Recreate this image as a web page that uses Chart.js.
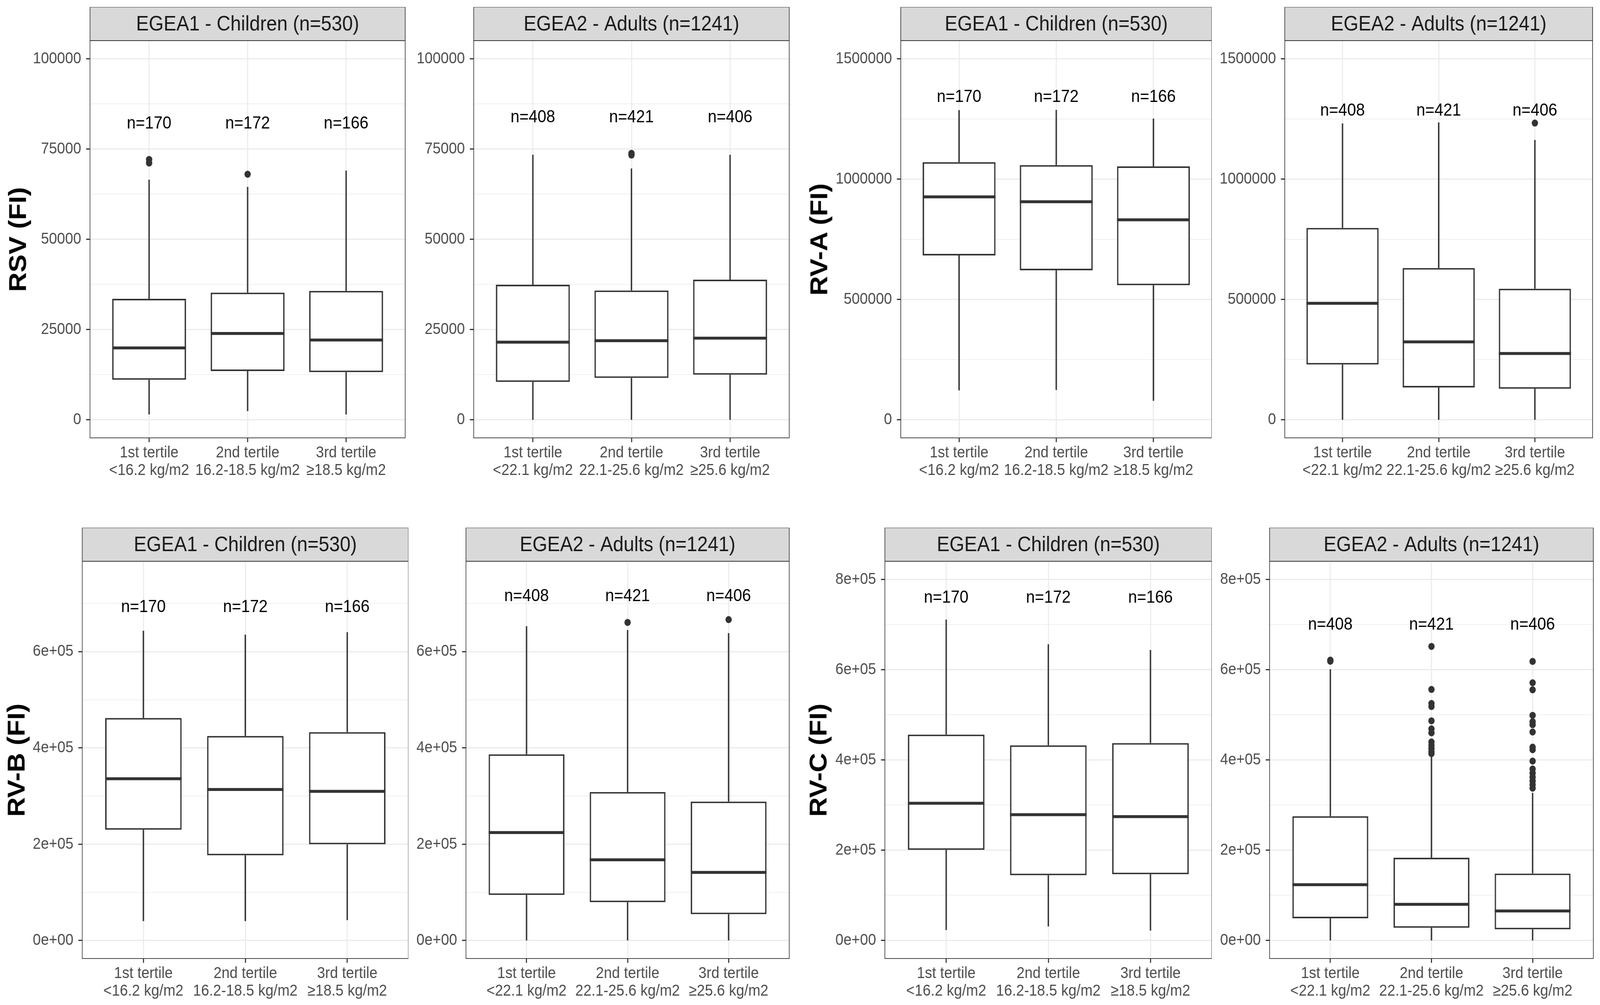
<!DOCTYPE html>
<html>
<head>
<meta charset="utf-8">
<script src="https://cdn.jsdelivr.net/npm/chart.js@4.4.1/dist/chart.umd.min.js"></script>
<style>
  html, body { margin: 0; padding: 0; background: #fff; overflow: hidden; width: 100%; height: 100%; }
  #frame { position: absolute; left: 0; top: 0; overflow: hidden; background: #fff; }
  #stage { position: absolute; left: 0; top: 0; width: 4533px; height: 2573px; transform-origin: 0 0;
           font-family: "Liberation Sans", Arial, sans-serif; background: #fff; }
  canvas { position: absolute; }
  .ytitle { position: absolute; font-weight: bold; font-size: 69px; color: #000; white-space: nowrap;
            transform: translate(-50%, -50%) rotate(-90deg); }
</style>
</head>
<body>
<div id="frame"><div id="stage"></div></div>
<script>
// categories / labels
const childLabels = [['1st tertile', '<16.2 kg/m2'], ['2nd tertile', '16.2-18.5 kg/m2'], ['3rd tertile', '≥18.5 kg/m2']];
const adultLabels = [['1st tertile', '<22.1 kg/m2'], ['2nd tertile', '22.1-25.6 kg/m2'], ['3rd tertile', '≥25.6 kg/m2']];
const childStrip = 'EGEA1 - Children (n=530)';
const adultStrip = 'EGEA2 - Adults (n=1241)';
const childN = ['n=170', 'n=172', 'n=166'];
const adultN = ['n=408', 'n=421', 'n=406'];

// y ticks and labels
const rsvTicks = [0, 25000, 50000, 75000, 100000];
const rsvTickLabels = ['0', '25000', '50000', '75000', '100000'];
const rvaTicks = [0, 500000, 1000000, 1500000];
const rvaTickLabels = ['0', '500000', '1000000', '1500000'];
const rvbTicks = [0, 200000, 400000, 600000];
const rvbTickLabels = ['0e+00', '2e+05', '4e+05', '6e+05'];
const rvcTicks = [0, 200000, 400000, 600000, 800000];
const rvcTickLabels = ['0e+00', '2e+05', '4e+05', '6e+05', '8e+05'];

// axis limits
const rsvRange = [-5000, 105000];
const rvaRange = [-75000, 1575000];
const rvbRange = [-37500, 787500];
const rvcRange = [-40000, 840000];

// box stats per tertile: [lower whisker, Q1, median, Q3, upper whisker]
const rsvChild = [[1500, 11100, 19900, 33500, 66500], [2400, 13500, 23900, 35200, 64500], [1500, 13200, 22100, 35700, 69000]];
const rsvChildOut = [[72100, 71100], [68000], []];
const rsvAdult = [[0, 10500, 21500, 37400, 73400], [0, 11600, 21900, 35800, 69600], [0, 12500, 22600, 38800, 73400]];
const rsvAdultOut = [[], [73800, 73300], []];

const rvaChild = [[122000, 682800, 926100, 1069900, 1286300], [123700, 621000, 905900, 1057800, 1287600], [79300, 559100, 830600, 1052400, 1251300]];
const rvaChildOut = [[], [], []];
const rvaAdult = [[0, 229800, 483900, 797000, 1231200], [0, 134400, 323900, 630400, 1235200], [0, 129000, 275500, 544400, 1162600]];
const rvaAdultOut = [[], [], [1232500]];

const rvbChild = [[40100, 230000, 335900, 462000, 643400], [40100, 176800, 313500, 424600, 634900], [42100, 199800, 309600, 432500, 640200]];
const rvbChildOut = [[], [], []];
const rvbAdult = [[0, 94600, 224100, 386500, 652600], [0, 79500, 167600, 308200, 644800], [0, 54600, 141300, 288500, 638200]];
const rvbAdultOut = [[], [660500], [666400]];

const rvcChild = [[23200, 200700, 303900, 456100, 710900], [30900, 144600, 278600, 432300, 656100], [21800, 146700, 274400, 437200, 643500]];
const rvcChildOut = [[], [], []];
const rvcAdult = [[0, 49100, 123500, 275100, 600700], [0, 28100, 80000, 183200, 408000], [0, 24600, 65300, 148100, 327000]];
const rvcAdultOut = [
  [621000, 618500],
  [651400, 556100, 525000, 518300, 486600, 468700, 460000, 439800, 432600, 425400, 418200, 413900],
  [618200, 570900, 555300, 498700, 484600, 478000, 461800, 428300, 422500, 397400, 379800, 370600, 361900, 353300, 345200, 337400]
];

// y position (data units) of the n= labels
const nLabelY = { rsvChild: 82000, rsvAdult: 83700, rvaChild: 1340000, rvaAdult: 1283600,
                  rvbChild: 692000, rvbAdult: 715000, rvcChild: 759000, rvcAdult: 699600 };

// ---- layout (reference pixels) ----
const FONT = '"Liberation Sans", Arial, sans-serif';
Chart.defaults.font.family = FONT;
const STRIP_H = 86, PLOT_H = 1017, Y_W = 200, X_H = 120;
const ROW_TOP = [18, 1351];
const DARK = '#333333', GRID = '#EBEBEB';

// the window may be narrower than 4533: stretch the reference-sized stage over the whole viewport
const frame = document.getElementById('frame');
const stage = document.getElementById('stage');
const SX = window.innerWidth / 4533, SY = window.innerHeight / 2573;
frame.style.width = window.innerWidth + 'px';
frame.style.height = window.innerHeight + 'px';
stage.style.transform = 'scale(' + SX + ',' + SY + ')';

const panels = [
  { x: 255,  w: 902, row: 0, strip: childStrip, xl: childLabels, n: childN, ny: nLabelY.rsvChild, stats: rsvChild, out: rsvChildOut, ticks: rsvTicks, tl: rsvTickLabels, range: rsvRange },
  { x: 1342, w: 903, row: 0, strip: adultStrip, xl: adultLabels, n: adultN, ny: nLabelY.rsvAdult, stats: rsvAdult, out: rsvAdultOut, ticks: rsvTicks, tl: rsvTickLabels, range: rsvRange },
  { x: 2552, w: 881, row: 0, strip: childStrip, xl: childLabels, n: childN, ny: nLabelY.rvaChild, stats: rvaChild, out: rvaChildOut, ticks: rvaTicks, tl: rvaTickLabels, range: rvaRange },
  { x: 3640, w: 881, row: 0, strip: adultStrip, xl: adultLabels, n: adultN, ny: nLabelY.rvaAdult, stats: rvaAdult, out: rvaAdultOut, ticks: rvaTicks, tl: rvaTickLabels, range: rvaRange },
  { x: 233,  w: 924, row: 1, strip: childStrip, xl: childLabels, n: childN, ny: nLabelY.rvbChild, stats: rvbChild, out: rvbChildOut, ticks: rvbTicks, tl: rvbTickLabels, range: rvbRange },
  { x: 1320, w: 925, row: 1, strip: adultStrip, xl: adultLabels, n: adultN, ny: nLabelY.rvbAdult, stats: rvbAdult, out: rvbAdultOut, ticks: rvbTicks, tl: rvbTickLabels, range: rvbRange },
  { x: 2507, w: 926, row: 1, strip: childStrip, xl: childLabels, n: childN, ny: nLabelY.rvcChild, stats: rvcChild, out: rvcChildOut, ticks: rvcTicks, tl: rvcTickLabels, range: rvcRange },
  { x: 3597, w: 926, row: 1, strip: adultStrip, xl: adultLabels, n: adultN, ny: nLabelY.rvcAdult, stats: rvcAdult, out: rvcAdultOut, ticks: rvcTicks, tl: rvcTickLabels, range: rvcRange }
];

const yTitles = [
  { text: 'RSV (FI)', x: 50, row: 0 },
  { text: 'RV-A (FI)', x: 2320, row: 0 },
  { text: 'RV-B (FI)', x: 46, row: 1 },
  { text: 'RV-C (FI)', x: 2318, row: 1 }
];

// strip, whiskers, medians, n labels and panel border
const boxExtras = {
  id: 'boxExtras',
  afterDatasetsDraw(chart, args, opts) {
    const p = opts.panel;
    const ctx = chart.ctx;
    const xs = chart.scales.x, ys = chart.scales.y;
    const bars = chart.getDatasetMeta(0).data;
    ctx.save();
    ctx.strokeStyle = DARK;
    ctx.lineCap = 'butt';
    bars.forEach((bar, i) => {
      const s = p.stats[i];
      const { x, width } = bar.getProps(['x', 'width'], true);
      ctx.lineWidth = 4;
      ctx.beginPath();
      ctx.moveTo(x, ys.getPixelForValue(s[3]));
      ctx.lineTo(x, ys.getPixelForValue(s[4]));
      ctx.moveTo(x, ys.getPixelForValue(s[1]));
      ctx.lineTo(x, ys.getPixelForValue(s[0]));
      ctx.stroke();
      ctx.lineWidth = 7.5;
      ctx.beginPath();
      ctx.moveTo(x - width / 2, ys.getPixelForValue(s[2]));
      ctx.lineTo(x + width / 2, ys.getPixelForValue(s[2]));
      ctx.stroke();
    });
    ctx.fillStyle = '#000';
    ctx.font = '45px ' + FONT;
    ctx.textAlign = 'center';
    ctx.textBaseline = 'middle';
    p.n.forEach((t, i) => ctx.fillText(t, xs.getPixelForValue(i + 1), ys.getPixelForValue(p.ny)));
    ctx.restore();
  },
  afterDraw(chart, args, opts) {
    const p = opts.panel;
    const ctx = chart.ctx;
    const a = chart.chartArea;
    ctx.save();
    ctx.fillStyle = '#D9D9D9';
    ctx.fillRect(a.left, a.top - STRIP_H, a.right - a.left, STRIP_H);
    ctx.strokeStyle = DARK;
    ctx.lineWidth = 1.8;
    ctx.strokeRect(a.left, a.top - STRIP_H, a.right - a.left, STRIP_H);
    ctx.strokeRect(a.left, a.top, a.right - a.left, a.bottom - a.top);
    ctx.fillStyle = '#1A1A1A';
    ctx.font = '54px ' + FONT;
    ctx.textAlign = 'center';
    ctx.textBaseline = 'middle';
    ctx.fillText(p.strip, (a.left + a.right) / 2, a.top - STRIP_H / 2 + 2);
    ctx.restore();
  }
};

function makePanel(p) {
  const cv = document.createElement('canvas');
  const w = Y_W + p.w, h = STRIP_H + PLOT_H + X_H;
  cv.width = w; cv.height = h;
  cv.style.width = w + 'px'; cv.style.height = h + 'px';
  cv.style.left = (p.x - Y_W) + 'px';
  cv.style.top = ROW_TOP[p.row] + 'px';
  stage.appendChild(cv);

  const step = p.ticks[1] - p.ticks[0];
  const minors = p.ticks.map(v => v + step / 2).filter(v => v > p.range[0] && v < p.range[1]);
  const yTickVals = p.ticks.concat(minors).sort((a, b) => a - b);
  const isMajor = v => p.ticks.indexOf(v) !== -1;

  const boxData = p.stats.map((s, i) => ({ x: i + 1, y: [s[1], s[3]] }));
  const outData = [];
  p.out.forEach((arr, i) => arr.forEach(v => outData.push({ x: i + 1, y: v })));

  new Chart(cv, {
    type: 'bar',
    data: {
      datasets: [
        { type: 'bar', data: boxData, backgroundColor: '#FFFFFF', borderColor: DARK, borderWidth: 4,
          borderSkipped: false, categoryPercentage: 1, barPercentage: 0.75 },
        { type: 'scatter', data: outData, pointRadius: 9, pointBackgroundColor: DARK, pointBorderWidth: 0 }
      ]
    },
    options: {
      responsive: false,
      animation: false,
      devicePixelRatio: 1,
      layout: { padding: { top: STRIP_H, left: 0, right: 0, bottom: 0 } },
      plugins: { legend: { display: false }, tooltip: { enabled: false }, boxExtras: { panel: p } },
      scales: {
        x: {
          type: 'linear', min: 0.4, max: 3.6, offset: false,
          afterBuildTicks: s => { s.ticks = [1, 2, 3].map(v => ({ value: v })); },
          afterFit: s => { s.height = X_H; },
          border: { display: false },
          grid: { offset: false, color: GRID, lineWidth: 3, tickColor: DARK, tickLength: 11, tickWidth: 3 },
          ticks: { autoSkip: false, maxRotation: 0, padding: 5, color: '#4D4D4D',
                   font: { size: 41, lineHeight: 1.1 }, callback: v => p.xl[v - 1] }
        },
        y: {
          type: 'linear', min: p.range[0], max: p.range[1],
          afterBuildTicks: s => { s.ticks = yTickVals.map(v => ({ value: v })); },
          afterFit: s => { s.width = Y_W; },
          border: { display: false },
          grid: {
            color: GRID,
            lineWidth: c => (c.tick && isMajor(c.tick.value)) ? 3 : 1.6,
            tickColor: c => (c.tick && isMajor(c.tick.value)) ? DARK : 'rgba(0,0,0,0)',
            tickLength: 11, tickWidth: 3
          },
          ticks: { autoSkip: false, padding: 14, color: '#4D4D4D', font: { size: 41 },
                   callback: v => isMajor(v) ? p.tl[p.ticks.indexOf(v)] : '' }
        }
      }
    },
    plugins: [boxExtras]
  });
}

panels.forEach(makePanel);

yTitles.forEach(t => {
  const d = document.createElement('div');
  d.className = 'ytitle';
  d.textContent = t.text;
  d.style.left = t.x + 'px';
  d.style.top = (ROW_TOP[t.row] + STRIP_H + PLOT_H / 2) + 'px';
  stage.appendChild(d);
});
</script>
</body>
</html>
